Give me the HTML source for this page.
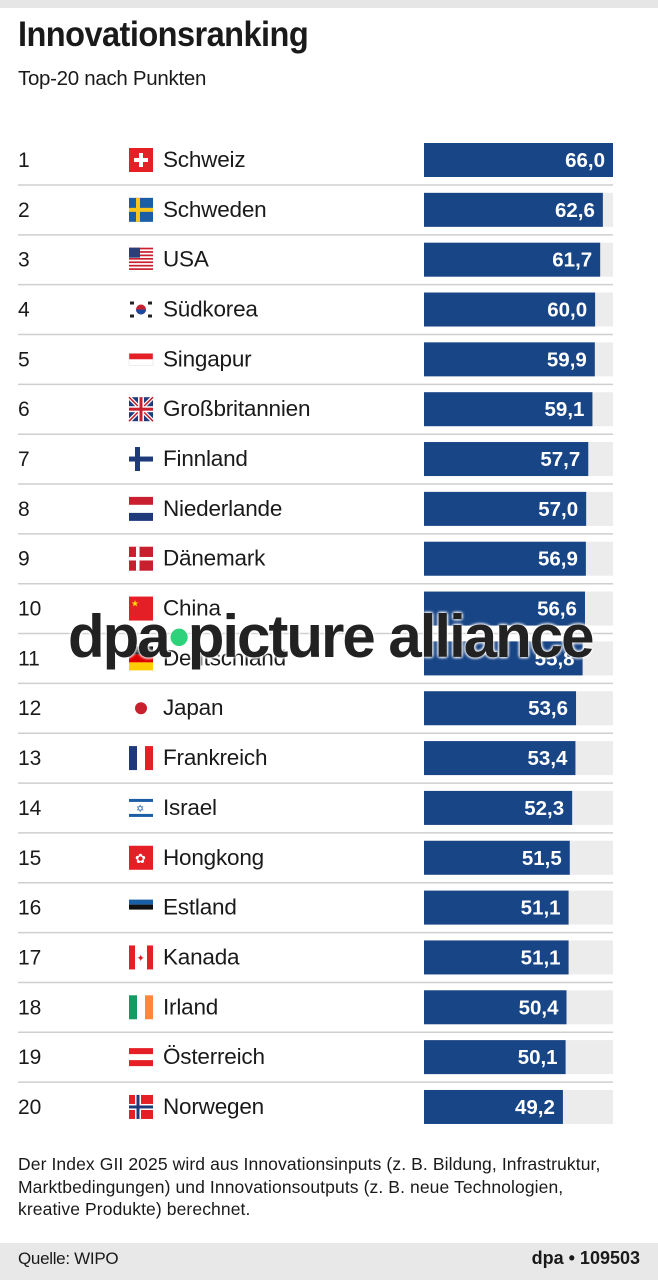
<!DOCTYPE html>
<html><head><meta charset="utf-8"><style>
body{margin:0;width:658px;height:1280px;background:#fff;font-family:"Liberation Sans",sans-serif;position:relative;overflow:hidden;color:#1a1a1a}
.abs{position:absolute}
</style></head><body>
<div class="abs" style="left:0;top:0;width:658px;height:8px;background:#e6e6e6"></div>
<div class="abs" style="left:18px;top:15px;font-size:35px;font-weight:bold;letter-spacing:-0.6px;transform:scaleX(0.93);transform-origin:left">Innovationsranking</div>
<div class="abs" style="left:18px;top:67px;font-size:20.5px;letter-spacing:-0.3px">Top-20 nach Punkten</div>
<svg class="abs" id="chart" style="left:0;top:0" width="658" height="1140"></svg>
<div class="abs" style="left:18px;top:1153px;width:640px;font-size:17.5px;line-height:22.5px;letter-spacing:0.1px;white-space:nowrap">Der Index GII 2025 wird aus Innovationsinputs (z. B. Bildung, Infrastruktur,<br>Marktbedingungen) und Innovationsoutputs (z. B. neue Technologien,<br>kreative Produkte) berechnet.</div>
<div class="abs" style="left:0;top:1243px;width:658px;height:37px;background:#e8e8e8"></div>
<div class="abs" style="left:18px;top:1249px;font-size:17px;letter-spacing:-0.3px">Quelle: WIPO</div>
<div class="abs" style="right:18px;top:1248px;font-size:18px;font-weight:bold">dpa • 109503</div>
<div class="abs" style="left:68px;top:602px;font-size:60px;font-weight:bold;color:#222;letter-spacing:-2px;text-shadow:0 0 3px #fff,0 0 3px #fff,0 0 3px #fff">dpa<span style="color:#2ed27a">•</span>picture alliance</div>
<script>
const ranks=[1,2,3,4,5,6,7,8,9,10,11,12,13,14,15,16,17,18,19,20];
const countries=["Schweiz","Schweden","USA","Südkorea","Singapur","Großbritannien","Finnland","Niederlande","Dänemark","China","Deutschland","Japan","Frankreich","Israel","Hongkong","Estland","Kanada","Irland","Österreich","Norwegen"];
const values=[66.0,62.6,61.7,60.0,59.9,59.1,57.7,57.0,56.9,56.6,55.8,53.6,53.4,52.3,51.5,51.1,51.1,50.4,50.1,49.2];
const flagCodes=["ch","se","us","kr","sg","gb","fi","nl","dk","cn","de","jp","fr","il","hk","ee","ca","ie","at","no"];
const svg=document.getElementById('chart');
const NS='http://www.w3.org/2000/svg';
const x0=424,trackW=189,dMin=2.6,dMax=66;
function xs(v){return (v-dMin)/(dMax-dMin)*trackW;}
function ys(i){return 160+i*49.84;}
function el(t,a,p){const e=document.createElementNS(NS,t);for(const k in a)e.setAttribute(k,a[k]);(p||svg).appendChild(e);return e;}
function flag(c,g){
 const R=(x,y,w,h,f)=>el('rect',{x,y,width:w,height:h,fill:f},g);
 switch(c){
 case'ch':R(0,0,24,24,'#e41f26');R(10,5,4,14,'#fff');R(5,10,14,4,'#fff');break;
 case'se':R(0,0,24,24,'#1a5ea6');R(7,0,4,24,'#f7c51c');R(0,10,24,4,'#f7c51c');break;
 case'us':for(let k=0;k<7;k++)R(0,k*3.43,24,1.7,'#c8202f');R(0,0,11,10,'#2a3e7a');break;
 case'kr':el('circle',{cx:12,cy:12,r:5,fill:'#c8202f'},g);el('path',{d:'M7 12a5 5 0 0 0 10 0z',fill:'#1a4a9c'},g);R(1,4,4,3,'#222');R(19,4,4,3,'#222');R(1,17,4,3,'#222');R(19,17,4,3,'#222');break;
 case'sg':R(0,6,24,6,'#e41f26');R(0,12,24,6,'#fff');el('rect',{x:0,y:6,width:24,height:12,fill:'none',stroke:'#ddd','stroke-width':0.5},g);break;
 case'gb':R(0,0,24,24,'#1f3a7a');el('path',{d:'M0 0L24 24M24 0L0 24',stroke:'#fff','stroke-width':4},g);el('path',{d:'M0 0L24 24M24 0L0 24',stroke:'#c8202f','stroke-width':1.5},g);R(9,0,6,24,'#fff');R(0,9,24,6,'#fff');R(10.5,0,3,24,'#c8202f');R(0,10.5,24,3,'#c8202f');break;
 case'fi':R(6,0,5,24,'#1f3a7a');R(0,9.5,24,5,'#1f3a7a');break;
 case'nl':R(0,0,24,8,'#c8202f');R(0,8,24,8,'#fff');R(0,16,24,8,'#1f3a7a');break;
 case'dk':R(0,0,24,24,'#c8202f');R(7,0,3.5,24,'#fff');R(0,10.25,24,3.5,'#fff');break;
 case'cn':R(0,0,24,24,'#e41f26');el('text',{x:2,y:10,'font-size':9,fill:'#ffde00'},g).textContent='★';break;
 case'de':R(0,0,24,8,'#111');R(0,8,24,8,'#dd0000');R(0,16,24,8,'#ffce00');break;
 case'jp':el('circle',{cx:12,cy:12,r:6,fill:'#c8202f'},g);break;
 case'fr':R(0,0,8,24,'#1f3a7a');R(16,0,8,24,'#e41f26');break;
 case'il':R(0,3,24,3,'#1a5ea6');R(0,18,24,3,'#1a5ea6');el('text',{x:7,y:16,'font-size':10,fill:'#1a5ea6'},g).textContent='✡';break;
 case'hk':R(0,0,24,24,'#e41f26');el('text',{x:6,y:17,'font-size':13,fill:'#fff'},g).textContent='✿';break;
 case'ee':R(0,4,24,5,'#1a5ea6');R(0,9,24,5,'#111');break;
 case'ca':R(0,0,6,24,'#e41f26');R(18,0,6,24,'#e41f26');el('text',{x:7.5,y:16,'font-size':10,fill:'#e41f26'},g).textContent='✦';break;
 case'ie':R(0,0,8,24,'#169b62');R(16,0,8,24,'#ff883e');break;
 case'at':R(0,3,24,6,'#e41f26');R(0,15,24,6,'#e41f26');break;
 case'no':R(0,0,24,24,'#e41f26');R(6,0,6,24,'#fff');R(0,9,24,6,'#fff');R(7.5,0,3,24,'#1f3a7a');R(0,10.5,24,3,'#1f3a7a');break;
 }
}
ranks.forEach((r,i)=>{
 const cy=ys(i);
 if(i<ranks.length-1){const ln=el('line',{x1:18,x2:613,y1:cy+25,y2:cy+25,stroke:'#cfcfcf','stroke-width':1.5});
 
 }
 const rt=el('text',{x:18,y:cy+7,'font-size':21,fill:'#1a1a1a'});rt.textContent=r;
 
 
 const g=el('g',{transform:`translate(129,${cy-12})`});
 
 
 flag(flagCodes[i],g);
 const ct=el('text',{x:163,y:cy+7,'font-size':22.5,fill:'#1a1a1a','letter-spacing':'-0.2'});ct.textContent=countries[i];
 
 
 const tr=el('rect',{x:x0,y:cy-17,width:trackW,height:34,fill:'#ececec'});
 
 
 const w=xs(values[i]);
 const b=el('rect',{x:x0,y:cy-17,width:w,height:34,fill:'#184586'});
 
 
 const vt=el('text',{x:x0+w-8,y:cy+7,'font-size':20.5,'font-weight':'bold',fill:'#fff','text-anchor':'end'});vt.textContent=values[i].toFixed(1).replace('.',',');
 
 
});
</script>
</body></html>
